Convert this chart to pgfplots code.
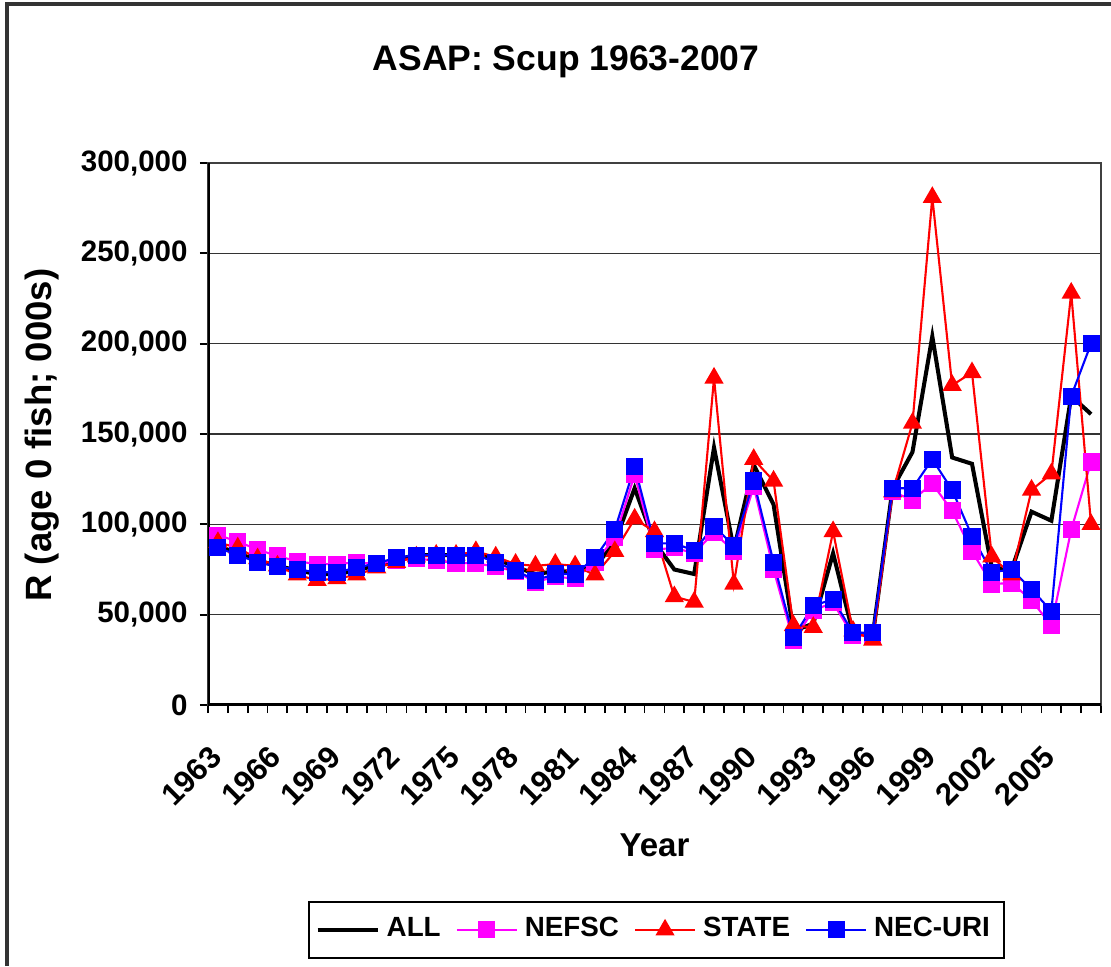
\documentclass[border=0pt]{standalone}
\usepackage{pgfplots}
\usepackage{pgfplotstable}
\pgfplotsset{compat=1.18}
\usepackage{fontspec}
\setmainfont{Liberation Sans}
\definecolor{nefsc}{RGB}{255,0,255}
\definecolor{state}{RGB}{255,0,0}
\definecolor{necuri}{RGB}{0,0,255}

% recruitment by survey index, thousands of fish
\pgfplotstableread{
year all nefsc state necuri
1963 88000 94000 90000 87000
1964 84000 90500 87000 83000
1965 80000 86000 81000 79000
1966 77000 82500 77000 76500
1967 74500 79500 72000 75000
1968 72500 78000 69000 73500
1969 72500 78000 70000 73500
1970 74500 79000 72000 76000
1971 77500 78000 76000 78500
1972 80500 80000 79000 81500
1973 83000 81000 82000 83000
1974 83000 80000 83000 83000
1975 83000 78500 83000 83000
1976 83500 78500 85000 83000
1977 81000 76500 82000 79000
1978 76500 74000 78000 74500
1979 72500 68000 77000 69000
1980 74000 71000 78000 72500
1981 74000 70000 77000 72500
1982 76500 79000 72000 81500
1983 90000 92500 85000 97000
1984 120000 127500 103000 132000
1985 90000 86000 96000 89500
1986 75000 87000 60000 89500
1987 72500 84000 57000 85500
1988 142500 95500 181000 99000
1989 86000 85000 67000 88000
1990 133000 121000 136000 124000
1991 111000 75000 124000 79000
1992 41000 35500 44000 37500
1993 45000 52500 43000 55000
1994 84000 56500 96000 58500
1995 40000 38500 41000 40000
1996 38500 38500 36000 40000
1997 120000 118000 118000 120000
1998 140000 113500 156000 120000
1999 204000 122500 281000 136000
2000 137000 107500 177000 119000
2001 133500 85000 184000 93500
2002 76000 67000 82000 73500
2003 75000 67500 72000 75000
2004 107000 58000 119000 64000
2005 102000 44000 128000 52000
2006 171000 97000 228000 171000
2007 161000 134500 100000 200000
}\scup

\begin{document}
\begin{tikzpicture}
\path[use as bounding box] (0,0) rectangle (11.11,9.66);
\draw[black!80, line width=0.9pt] (0.07,0) -- (0.07,9.62) -- (11.11,9.62);
\begin{axis}[
  at={(2.08cm,2.61cm)}, anchor=south west,
  width=8.93cm, height=5.42cm, scale only axis,
  xmin=1962.5, xmax=2007.5,
  ymin=0, ymax=300000,
  font=\bfseries,
  title={ASAP: Scup 1963-2007},
  title style={font=\fontsize{10.1}{12}\selectfont\bfseries, at={(0.401,1.148)}, anchor=center, yshift=0pt},
  xlabel={Year},
  xlabel style={font=\fontsize{9.4}{11}\selectfont\bfseries, at={(0.5,-0.258)}, anchor=center},
  ylabel={R (age 0 fish; 000s)},
  ylabel style={font=\fontsize{10.4}{12}\selectfont\bfseries, at={(-0.186,0.498)}, anchor=center},
  xtick pos=bottom, ytick pos=left,
  xtick={1962.5,1963.5,...,2007.5},
  xticklabels={},
  extra x ticks={1963,1966,...,2005},
  extra x tick labels={1963,1966,1969,1972,1975,1978,1981,1984,1987,1990,1993,1996,1999,2002,2005},
  extra x tick style={tick style={draw=none}, grid=none},
  x tick label style={xshift=-0.1cm, yshift=-0.25cm, rotate=45, anchor=north east, inner sep=1pt,
    font=\fontsize{8.8}{10}\selectfont\bfseries},
  ytick={0,50000,100000,150000,200000,250000,300000},
  yticklabels={0,{50,000},{100,000},{150,000},{200,000},{250,000},{300,000}},
  scaled y ticks=false,
  y tick label style={font=\fontsize{8.4}{10}\selectfont\bfseries},
  tick align=outside,
  major tick length=0.08cm,
  tick style={black, line width=0.5pt},
  ymajorgrids=true,
  grid style={black!80, line width=0.45pt},
  axis line style={black!75, line width=0.6pt},
  legend columns=4,
  legend style={at={(0.502,-0.415)}, anchor=center, draw=black, line width=0.6pt,
    font=\fontsize{7.9}{9}\selectfont\bfseries, inner xsep=2pt, inner ysep=2.5pt,
    /tikz/every even column/.append style={column sep=0.08cm}},
]
\addplot[black, line width=1.15pt, no markers] table[x=year, y=all] {\scup};
\addlegendentry{ALL}
\addplot[nefsc, line width=0.6pt, mark=square*, mark size=0.075cm] table[x=year, y=nefsc] {\scup};
\addlegendentry{NEFSC}
\addplot[state, line width=0.6pt, mark=triangle*, mark size=0.09cm] table[x=year, y=state] {\scup};
\addlegendentry{STATE}
\addplot[necuri, line width=0.6pt, mark=square*, mark size=0.075cm] table[x=year, y=necuri] {\scup};
\addlegendentry{NEC-URI}
\draw[black, line width=1pt] (rel axis cs:0,1) -- (rel axis cs:0,0) -- (rel axis cs:1,0);
\end{axis}
\end{tikzpicture}
\end{document}
